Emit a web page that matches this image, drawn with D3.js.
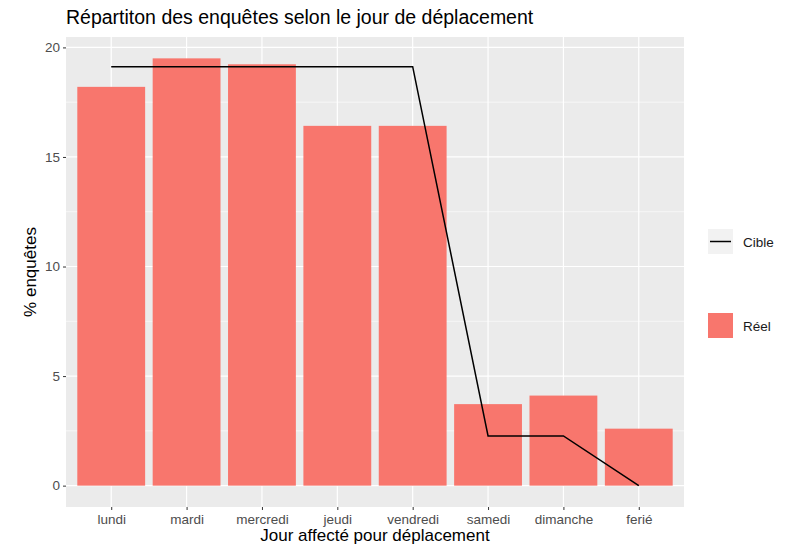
<!DOCTYPE html>
<html>
<head>
<meta charset="utf-8">
<script src="https://cdn.jsdelivr.net/npm/d3@7"></script>
<style>
body { margin: 0; background: #fff; }
text { font-family: "Liberation Sans", Arial, sans-serif; }
</style>
</head>
<body>
<script>
// data
var days = ["lundi", "mardi", "mercredi", "jeudi", "vendredi", "samedi", "dimanche", "ferié"];
var reel = [18.2, 19.5, 19.23, 16.42, 16.42, 3.72, 4.11, 2.6];
var cible = [19.12, 19.12, 19.12, 19.12, 19.12, 2.27, 2.27, 0];
var yTicks = [0, 5, 10, 15, 20];
var yMinor = [2.5, 7.5, 12.5, 17.5];

var w = 790, h = 546;
var pLeft = 66, pRight = 684, pTop = 37, pBottom = 507;

var svg = d3.select("body").append("svg")
  .attr("width", w)
  .attr("height", h);

var x = d3.scalePoint()
  .domain(days)
  .range([pLeft, pRight])
  .padding(0.6);

var yMax = 19.5;
var y = d3.scaleLinear()
  .domain([-yMax * 0.05, yMax * 1.05])
  .range([pBottom, pTop]);

var barW = x.step() * 0.9;

// panel
svg.append("rect")
  .attr("x", pLeft).attr("y", pTop)
  .attr("width", pRight - pLeft).attr("height", pBottom - pTop)
  .attr("fill", "#EBEBEB");

// grid
svg.selectAll(".minor")
  .data(yMinor)
  .enter().append("line")
  .attr("x1", pLeft).attr("x2", pRight)
  .attr("y1", function(d) { return y(d); })
  .attr("y2", function(d) { return y(d); })
  .attr("stroke", "#fff").attr("stroke-width", 0.6);

svg.selectAll(".major")
  .data(yTicks)
  .enter().append("line")
  .attr("x1", pLeft).attr("x2", pRight)
  .attr("y1", function(d) { return y(d); })
  .attr("y2", function(d) { return y(d); })
  .attr("stroke", "#fff").attr("stroke-width", 1.2);

svg.selectAll(".vgrid")
  .data(days)
  .enter().append("line")
  .attr("x1", function(d) { return x(d); })
  .attr("x2", function(d) { return x(d); })
  .attr("y1", pTop).attr("y2", pBottom)
  .attr("stroke", "#fff").attr("stroke-width", 1.2);

// bars
svg.selectAll(".bar")
  .data(days)
  .enter().append("rect")
  .attr("x", function(d) { return x(d) - barW / 2; })
  .attr("width", barW)
  .attr("y", function(d, i) { return y(reel[i]); })
  .attr("height", function(d, i) { return y(0) - y(reel[i]); })
  .attr("fill", "#F8766D");

// target line
var line = d3.line()
  .x(function(d, i) { return x(days[i]); })
  .y(function(d) { return y(d); });

svg.append("path")
  .datum(cible)
  .attr("d", line)
  .attr("fill", "none")
  .attr("stroke", "#000")
  .attr("stroke-width", 1.5);

// axes
var yAxis = d3.axisLeft(y).tickValues(yTicks).tickSize(3).tickPadding(3);
var gy = svg.append("g")
  .attr("transform", "translate(" + pLeft + ",0)")
  .call(yAxis);
gy.select(".domain").remove();
gy.selectAll("line").attr("stroke", "#333");
gy.selectAll("text").attr("fill", "#4D4D4D").style("font-size", "13.5px");

var xAxis = d3.axisBottom(x).tickSize(3).tickPadding(4);
var gx = svg.append("g")
  .attr("transform", "translate(0," + pBottom + ")")
  .call(xAxis);
gx.select(".domain").remove();
gx.selectAll("line").attr("stroke", "#333");
gx.selectAll("text").attr("fill", "#4D4D4D").style("font-size", "13.5px");

// titles
svg.append("text")
  .attr("x", pLeft).attr("y", 24)
  .style("font-size", "19.5px")
  .attr("fill", "#000")
  .text("Répartiton des enquêtes selon le jour de déplacement");

svg.append("text")
  .attr("x", (pLeft + pRight) / 2).attr("y", 541)
  .attr("text-anchor", "middle")
  .style("font-size", "17px")
  .text("Jour affecté pour déplacement");

svg.append("text")
  .attr("transform", "translate(36," + ((pTop + pBottom) / 2) + ") rotate(-90)")
  .attr("text-anchor", "middle")
  .style("font-size", "17px")
  .text("% enquêtes");

// legend
var lg = svg.append("g");
lg.append("rect")
  .attr("x", 708).attr("y", 229).attr("width", 25).attr("height", 25)
  .attr("fill", "#F2F2F2");
lg.append("line")
  .attr("x1", 710).attr("x2", 731).attr("y1", 241.5).attr("y2", 241.5)
  .attr("stroke", "#000").attr("stroke-width", 1.5);
lg.append("text")
  .attr("x", 743).attr("y", 247)
  .style("font-size", "13.5px").attr("fill", "#1A1A1A")
  .text("Cible");
lg.append("rect")
  .attr("x", 708).attr("y", 313).attr("width", 25).attr("height", 25)
  .attr("fill", "#F2F2F2");
lg.append("rect")
  .attr("x", 708).attr("y", 313).attr("width", 25).attr("height", 25)
  .attr("fill", "#F8766D");
lg.append("text")
  .attr("x", 743).attr("y", 331)
  .style("font-size", "13.5px").attr("fill", "#1A1A1A")
  .text("Réel");
</script>
</body>
</html>
